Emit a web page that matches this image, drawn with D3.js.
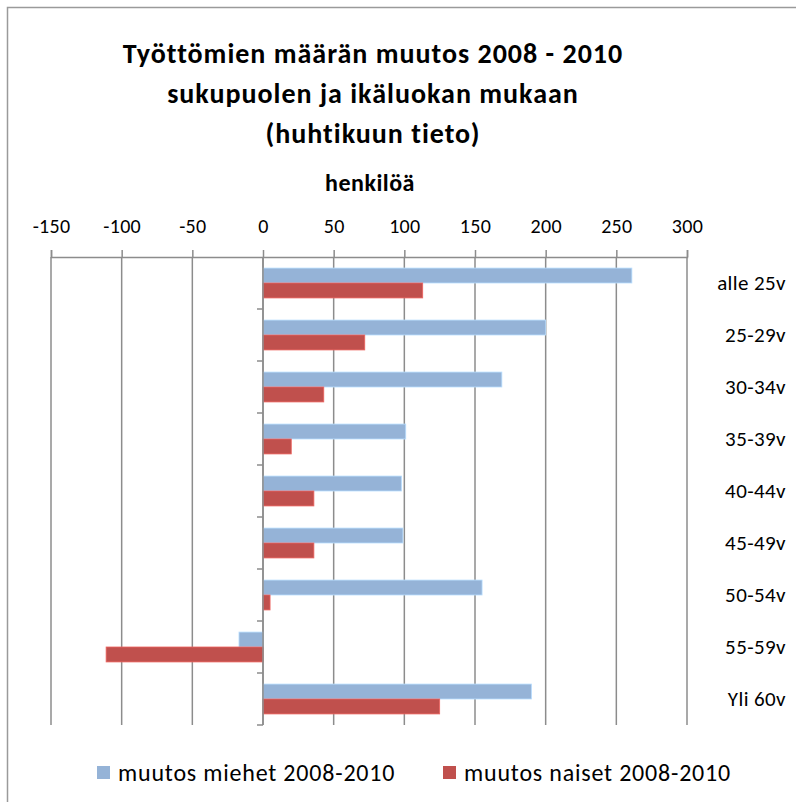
<!DOCTYPE html>
<html>
<head>
<meta charset="utf-8">
<script src="https://cdn.jsdelivr.net/npm/d3@7"></script>
<style>
	body { margin: 0; background: #fff; }
	svg text { font-family: Carlito, Calibri, Lato, 'Open Sans', sans-serif; fill: #000; }
	.title { font-weight: bold; font-size: 28px; letter-spacing: 1px; }
	.axis-title { font-weight: bold; font-size: 24px; letter-spacing: 0.5px; }
	.tick-label { font-size: 20px; letter-spacing: 0.3px; }
	.cat-label { font-size: 21px; letter-spacing: 0.4px; }
	.legend-label { font-size: 24px; letter-spacing: 0.8px; }
</style>
</head>
<body>
<div class="chart-wrapper"></div>
<script>

// data
const categories = ['alle 25v', '25-29v', '30-34v', '35-39v', '40-44v', '45-49v', '50-54v', '55-59v', 'Yli 60v'];
const men = [261, 200, 169, 101, 98, 99, 155, -17, 190];
const women = [113, 72, 43, 20, 36, 36, 5, -111, 125];
const seriesNames = ['muutos miehet 2008-2010', 'muutos naiset 2008-2010'];
const seriesColors = ['#95b3d7', '#c0504d'];
const xTicks = [-150, -100, -50, 0, 50, 100, 150, 200, 250, 300];
const titleLines = ['Työttömien määrän muutos 2008 - 2010', 'sukupuolen ja ikäluokan mukaan', '(huhtikuun tieto)'];
const axisTitle = 'henkilöä';

const width = 796;
const height = 802;

const svg = d3.select('.chart-wrapper')
.append('svg')
.attr('width', width)
.attr('height', height)

// chart area frame (right and bottom edges fall outside the picture)
svg.append('rect')
.attr('x', 7.5)
.attr('y', 7.5)
.attr('width', width + 20)
.attr('height', height + 20)
.attr('fill', '#fff')
.attr('stroke', '#9a9a9a')
.attr('stroke-width', 1.5)

const x = d3.scaleLinear()
.domain([-150, 300])
.range([51, 687])

const y = d3.scaleBand()
.domain(categories)
.range([257, 725])

const ySub = d3.scaleBand()
.domain([0, 1])
.range([0, y.bandwidth()])
.paddingInner(0)
.paddingOuter(0.74)

// titles
const title = svg.append('text')
.attr('class', 'title')
.attr('text-anchor', 'middle')

title.selectAll('tspan')
.data(titleLines)
.enter()
.append('tspan')
.attr('x', 373)
.attr('y', (d, i) => 63 + i * 40)
.text(d => d)

svg.append('text')
.attr('class', 'axis-title')
.attr('text-anchor', 'middle')
.attr('x', 370)
.attr('y', 191)
.text(axisTitle)

// vertical gridlines
svg.append('g')
.selectAll('line')
.data(xTicks)
.enter()
.append('line')
.attr('x1', d => x(d))
.attr('x2', d => x(d))
.attr('y1', y.range()[0])
.attr('y2', y.range()[1])
.attr('stroke', '#8c8c8c')
.attr('stroke-width', 1.5)

// top value axis
const xAxis = svg.append('g')
.attr('transform', 'translate(0,' + y.range()[0] + ')')
.call(d3.axisTop(x).tickValues(xTicks).tickSize(7).tickPadding(17).tickFormat(d => String(d)))

xAxis.select('.domain')
.attr('stroke', '#8c8c8c')
.attr('stroke-width', 1.5)

xAxis.selectAll('.tick line')
.attr('stroke', '#8c8c8c')
.attr('stroke-width', 1.5)

xAxis.selectAll('.tick text')
.attr('class', 'tick-label')
.attr('font-family', null)
.attr('font-size', null)

// bars
const bars = svg.append('g');

const rows = categories.map((c, i) => ({ cat: c, values: [men[i], women[i]] }));

const group = bars.selectAll('g')
.data(rows)
.enter()
.append('g')
.attr('transform', d => 'translate(0,' + y(d.cat) + ')')

group.selectAll('rect')
.data(d => d.values.map((v, s) => ({ v, s })))
.enter()
.append('rect')
.attr('x', d => x(Math.min(0, d.v)))
.attr('width', d => Math.abs(x(d.v) - x(0)))
.attr('y', d => ySub(d.s))
.attr('height', ySub.bandwidth())
.attr('fill', d => seriesColors[d.s])
.attr('stroke', d => d3.color(seriesColors[d.s]).brighter(0.6))
.attr('stroke-width', 0.8)

// category axis along zero
const catAxis = svg.append('g');

catAxis.append('line')
.attr('x1', x(0))
.attr('x2', x(0))
.attr('y1', y.range()[0])
.attr('y2', y.range()[1])
.attr('stroke', '#8c8c8c')
.attr('stroke-width', 1.5)

const edges = categories.map(c => y(c)).concat([y.range()[1]]).slice(1);

catAxis.selectAll('.cat-tick')
.data(edges)
.enter()
.append('line')
.attr('class', 'cat-tick')
.attr('x1', x(0) - 6)
.attr('x2', x(0))
.attr('y1', d => d)
.attr('y2', d => d)
.attr('stroke', '#8c8c8c')
.attr('stroke-width', 1.5)

svg.append('g')
.selectAll('text')
.data(categories)
.enter()
.append('text')
.attr('class', 'cat-label')
.attr('text-anchor', 'end')
.attr('x', 786)
.attr('y', d => y(d) + y.bandwidth() / 2)
.attr('dy', '0.35em')
.text(d => d)

// legend
const legendX = [97, 443];

const legend = svg.append('g')
.selectAll('g')
.data(seriesNames)
.enter()
.append('g')
.attr('transform', (d, i) => 'translate(' + legendX[i] + ',766)')

legend.append('rect')
.attr('width', 13)
.attr('height', 13)
.attr('fill', (d, i) => seriesColors[i])

legend.append('text')
.attr('class', 'legend-label')
.attr('x', 21)
.attr('y', 15)
.text(d => d)

</script>
</body>
</html>
